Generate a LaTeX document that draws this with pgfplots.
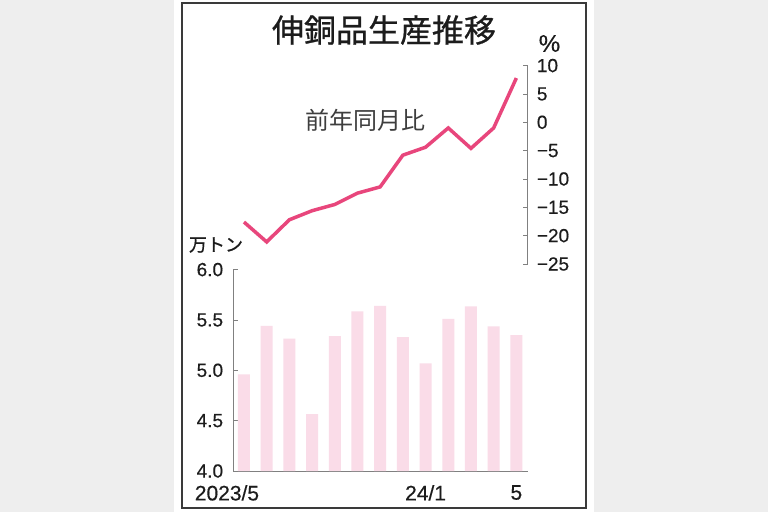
\documentclass[border=0pt]{standalone}
\usepackage{fontspec}
\setmainfont{Liberation Sans}
\newfontfamily\num{Liberation Sans}[FakeBold=0.4]
\newfontfamily\jp{Noto Sans CJK JP}
\newfontfamily\jpt{Noto Sans CJK JP}[FakeBold=0.8]
\usepackage{pgfplots}
\pgfplotsset{compat=1.18}
\definecolor{bgray}{HTML}{EEEEEE}
\definecolor{framec}{HTML}{3A3A3A}
\definecolor{linec}{HTML}{E8467C}
\definecolor{barc}{HTML}{FADCE8}
\definecolor{axc}{HTML}{808080}
\definecolor{txt}{HTML}{1C1C1C}
\begin{document}
\begin{tikzpicture}
\fill[bgray] (0,0) rectangle (768bp,512bp);
\fill[white] (174bp,0) rectangle (594bp,512bp);
\draw[framec, line width=2bp] (181.5bp,4bp) rectangle (585.5bp,508.5bp);

\begin{axis}[at={(233.3bp,41bp)}, anchor=south west, scale only axis,
  width=294.4bp, height=201.4bp,
  xmin=-0.47, xmax=12.5, ymin=4, ymax=6,
  axis lines=left, axis line style={-, draw=axc, line width=0.8bp},
  tick align=inside, major tick length=5bp,
  ytick={4,4.5,5,5.5,6}, yticklabels={4.0,4.5,5.0,5.5,6.0},
  ytick style={draw=axc, line width=0.8bp},
  xtick={8,12}, xticklabels={24/1,5},
  xtick style={draw=none},
  extra x ticks={0}, extra x tick labels={2023/5},
  extra x tick style={tick style={draw=none}, tick label style={xshift=-17bp}},
  yticklabel style={font=\num\fontsize{19bp}{19bp}\selectfont, text=txt, anchor=east, inner sep=0pt, xshift=-10bp},
  xticklabel style={font=\num\fontsize{21bp}{21bp}\selectfont, text=txt, anchor=north, inner sep=0pt, yshift=-14bp},
  /pgf/number format/assume math mode=true,
  clip=false]
\addplot[ybar, bar width=12bp, fill=barc, draw=none, bar shift=0pt] coordinates {
(0,4.96) (1,5.44) (2,5.315) (3,4.565) (4,5.34) (5,5.585) (6,5.64)
(7,5.33) (8,5.07) (9,5.51) (10,5.635) (11,5.435) (12,5.35)};
\end{axis}

\begin{axis}[at={(233.3bp,248bp)}, anchor=south west, scale only axis,
  width=294.4bp, height=198.4bp,
  xmin=-0.47, xmax=12.5, ymin=-25, ymax=10,
  axis x line=none, axis y line*=right, axis line style={-, draw=axc, line width=0.8bp},
  tick align=inside, major tick length=5bp,
  ytick style={draw=axc, line width=0.8bp},
  ytick={-25,-20,-15,-10,-5,0,5,10}, yticklabels={−25,−20,−15,−10,−5,0,5,10},
  yticklabel style={font=\num\fontsize{19bp}{19bp}\selectfont, text=txt, anchor=west, inner sep=0pt, xshift=9bp},
  /pgf/number format/assume math mode=true,
  clip=false]
\addplot[linec, line width=3.5bp, line join=miter] coordinates {
(0,-17.6) (1,-21.1) (2,-17.2) (3,-15.6) (4,-14.5) (5,-12.5) (6,-11.4)
(7,-5.8) (8,-4.4) (9,-1.0) (10,-4.6) (11,-1.0) (12,7.8)};
\end{axis}

\node[font=\jpt\fontsize{32bp}{32bp}\selectfont, text=txt] at (384bp,482bp) {伸銅品生産推移};
\node[font=\jp\fontsize{24bp}{24bp}\selectfont, text=txt!85] at (365bp,392bp) {前年同月比};
\node[font=\jpt\fontsize{18bp}{18bp}\selectfont, text=txt] at (216bp,267bp) {万トン};
\node[font=\num\fontsize{24bp}{24bp}\selectfont, text=txt] at (549.5bp,468.5bp) {\%};
\end{tikzpicture}
\end{document}
